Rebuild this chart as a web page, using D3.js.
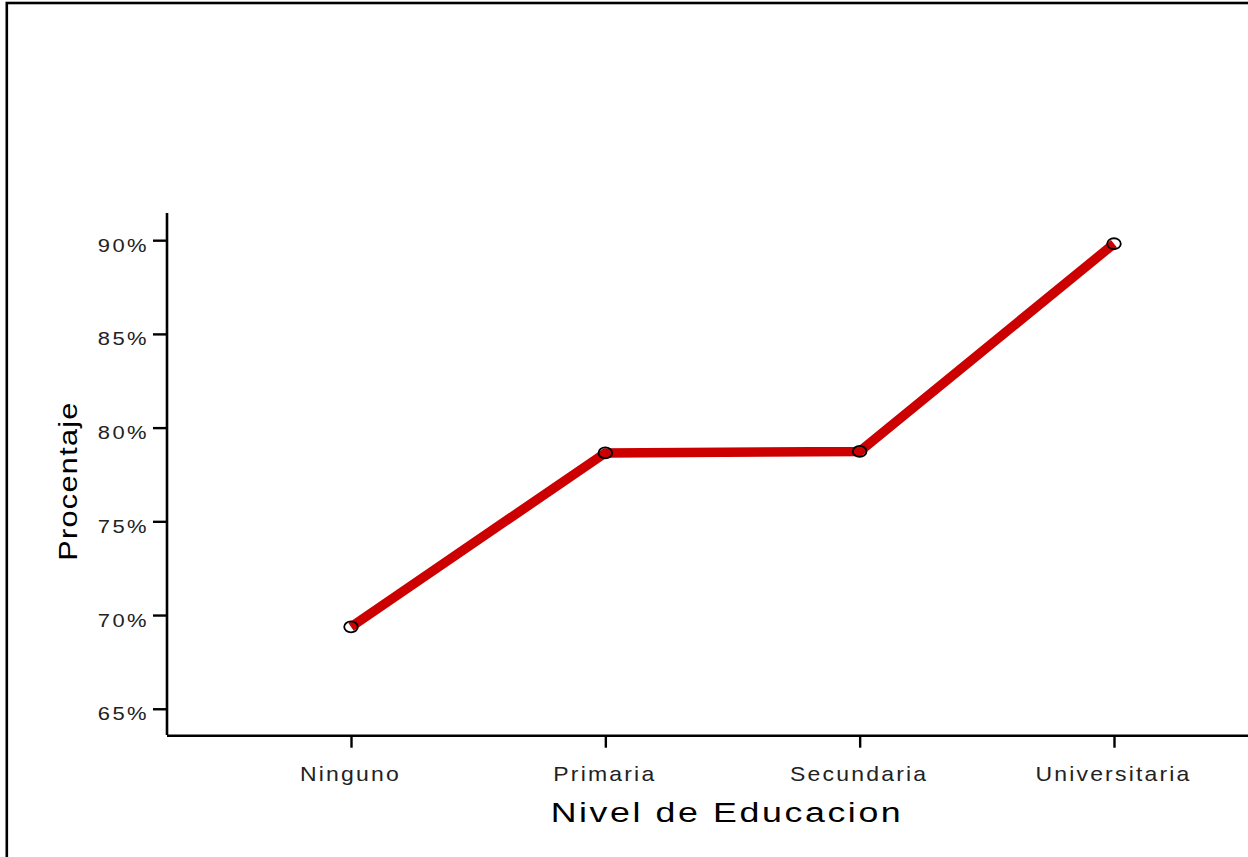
<!DOCTYPE html>
<html>
<head>
<meta charset="utf-8">
<script src="https://cdn.jsdelivr.net/npm/d3@7"></script>
<style>
  html, body { margin: 0; padding: 0; background: #fff; overflow: hidden; }
  svg { display: block; }
</style>
</head>
<body>
<svg id="chart" width="1248" height="857"></svg>
<script>
const categories = ["Ninguno", "Primaria", "Secundaria", "Universitaria"];
const values = [69.37, 78.65, 78.73, 89.81];
const yTicks = [65, 70, 75, 80, 85, 90];
const xTitle = "Nivel de Educacion";
const yTitle = "Procentaje";

const svg = d3.select("#chart");
const W = 1248, H = 857;
const FONT = "'Liberation Sans', Arial, sans-serif";

// frame border
svg.append("rect")
  .attr("x", 6.8).attr("y", 3)
  .attr("width", W + 20).attr("height", H + 20)
  .attr("fill", "none").attr("stroke", "#000").attr("stroke-width", 2.6);

const x = d3.scalePoint().domain(categories).range([167, 1298]).padding(0.7235);
const y = d3.scaleLinear().domain([63.6, 91.45]).range([735, 213]);

// Y axis
const yAxis = svg.append("g").attr("transform", "translate(167,0)")
  .call(d3.axisLeft(y).tickValues(yTicks).tickSize(14).tickFormat(d => d + "%"));
yAxis.select(".domain").attr("d", `M0,${y.range()[1]}V${y.range()[0]}`).attr("stroke-width", 2.6);
yAxis.selectAll(".tick line").attr("stroke-width", 2.4);
yAxis.selectAll(".tick text")
  .attr("x", 0).attr("dy", null).attr("y", 11)
  .attr("transform", "translate(-18,0) scale(1.22,1)")
  .attr("text-anchor", "end")
  .attr("fill", "#222")
  .style("letter-spacing", "2px")
  .style("font-family", FONT)
  .style("font-size", "18px");

// X axis
const xAxis = svg.append("g").attr("transform", "translate(0,735.7)")
  .call(d3.axisBottom(x).tickSize(12).tickSizeOuter(0));
xAxis.select(".domain").attr("d", "M167,0H1300").attr("stroke-width", 2.6);
xAxis.selectAll(".tick line").attr("stroke-width", 2.4);
xAxis.selectAll(".tick text")
  .attr("x", 0).attr("dy", null).attr("y", 45)
  .attr("transform", "translate(-1,0) scale(1.15,1)")
  .attr("text-anchor", "middle")
  .attr("fill", "#222")
  .style("letter-spacing", "1.9px")
  .style("font-family", FONT)
  .style("font-size", "20px");

svg.selectAll(".domain, .tick line").attr("stroke", "#000");

// line
const line = d3.line().x((d, i) => x(categories[i])).y(d => y(d));
svg.append("path").datum(values)
  .attr("d", line)
  .attr("fill", "none")
  .attr("stroke", "#cc0000")
  .attr("stroke-width", 9.5)
  .attr("stroke-linecap", "butt")
  .attr("stroke-linejoin", "miter");

// markers
svg.selectAll("ellipse.pt").data(values).enter().append("ellipse")
  .attr("class", "pt")
  .attr("cx", (d, i) => x(categories[i]))
  .attr("cy", d => y(d))
  .attr("rx", 6.8).attr("ry", 5.5)
  .attr("fill", "none").attr("stroke", "#000").attr("stroke-width", 1.8);

// axis titles
svg.append("text")
  .attr("transform", "translate(727,821.7) scale(1.3,1)")
  .attr("text-anchor", "middle")
  .attr("fill", "#000")
  .style("letter-spacing", "2px")
  .style("font-family", FONT)
  .style("font-size", "27.5px")
  .text(xTitle);

svg.append("text")
  .attr("transform", "translate(77,481) rotate(-90) scale(1.15,1)")
  .attr("text-anchor", "middle")
  .attr("fill", "#000")
  .style("letter-spacing", "1.1px")
  .style("font-family", FONT)
  .style("font-size", "26.7px")
  .text(yTitle);
</script>
</body>
</html>
